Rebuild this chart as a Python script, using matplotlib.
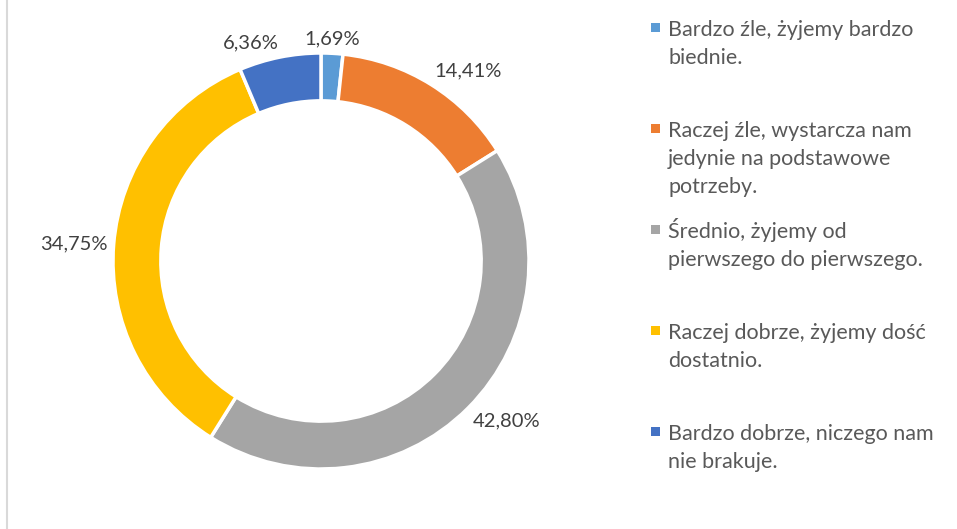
import matplotlib
matplotlib.use("Agg")
import matplotlib.pyplot as plt
from matplotlib.patches import Rectangle
from matplotlib.lines import Line2D
import numpy as np

plt.rcParams['font.family'] = ['Lato', 'DejaVu Sans']

# dane
kategorie = [
    "Bardzo źle, żyjemy bardzo\nbiednie.",
    "Raczej źle, wystarcza nam\njedynie na podstawowe\npotrzeby.",
    "Średnio, żyjemy od\npierwszego do pierwszego.",
    "Raczej dobrze, żyjemy dość\ndostatnio.",
    "Bardzo dobrze, niczego nam\nnie brakuje.",
]
wartosci = [1.69, 14.41, 42.80, 34.75, 6.36]
kolory = ["#5B9BD5", "#ED7D31", "#A5A5A5", "#FFC000", "#4472C4"]

W, H = 957, 529
fig = plt.figure(figsize=(W / 100, H / 100), dpi=100)

# os kolowa: srodek (321, 261), promien 208 px
cx, cy, half = 321, 261, 260
ax = fig.add_axes([(cx - half) / W, (H - cy - half) / H, 2 * half / W, 2 * half / H])
lim = half / 208
ax.set_xlim(-lim, lim)
ax.set_ylim(-lim, lim)
ax.set_aspect('equal')
ax.axis('off')

wedges, _ = ax.pie(wartosci, colors=kolory, startangle=90, counterclock=False,
                   radius=1.0, wedgeprops=dict(width=0.23, edgecolor='white', linewidth=2.5))

# etykiety procentowe na zewnatrz
for w, v in zip(wedges, wartosci):
    ang = np.deg2rad((w.theta1 + w.theta2) / 2)
    c, s = np.cos(ang), np.sin(ang)
    d = 1.03
    ha = 'center' if abs(c) < 0.1 else ('left' if c > 0 else 'right')
    va = 'center' if abs(s) < 0.3 else ('bottom' if s > 0 else 'top')
    ax.text(d * c, d * s, f"{v:.2f}%".replace('.', ','), ha=ha, va=va,
            fontsize=14.5, color='#404040')

# legenda
x_txt = 668 / W
for i, (lab, col) in enumerate(zip(kategorie, kolory)):
    base = 36 + 101 * i
    fig.add_artist(Rectangle((651 / W, 1 - (base - 4) / H), 9 / W, 9 / H,
                             transform=fig.transFigure, color=col, lw=0))
    for j, line in enumerate(lab.split("\n")):
        fig.text(x_txt, 1 - (base + 28 * j) / H, line, ha='left', va='baseline',
                 fontsize=15.5, color='#595959')

# krawedz po lewej
fig.add_artist(Line2D([7.5 / W, 7.5 / W], [0, 1], transform=fig.transFigure,
                      color='#D9D9D9', lw=1.5))

fig.savefig("out.png", dpi=100, facecolor='white')
